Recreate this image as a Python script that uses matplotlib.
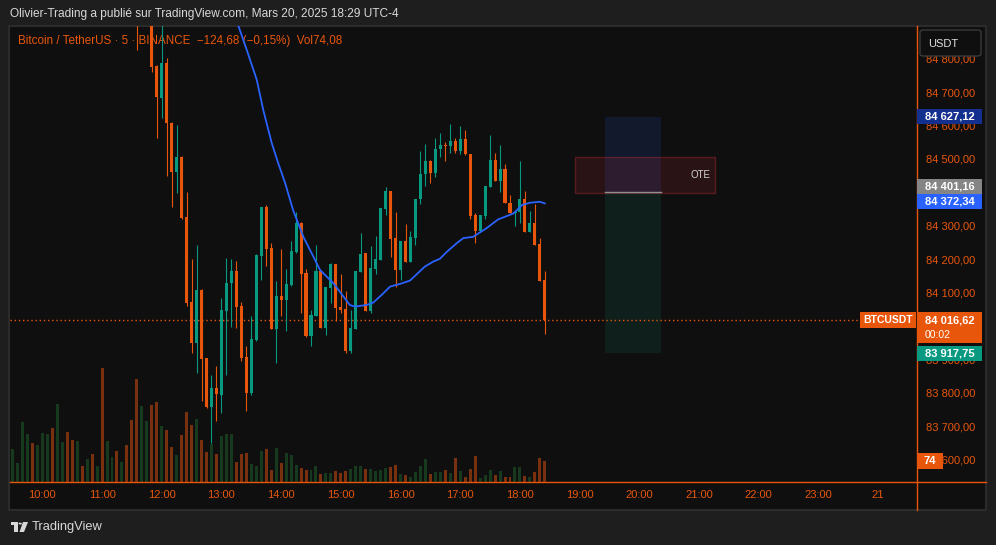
import matplotlib.pyplot as plt
from matplotlib.patches import Rectangle, FancyBboxPatch, Polygon, Circle
import numpy as np

plt.rcParams['font.family'] = ['Liberation Sans', 'DejaVu Sans']

W, H = 996, 545

# 5 minute candles, first bar at 09:30
opens = [85210, 85245, 85270, 85335, 85370, 85300, 85330, 85385, 85410, 85340,
         85425, 85450, 85390, 85350, 85375, 85355, 85370, 85330, 85345, 85180,
         85220, 85235, 85190, 85205, 85110, 85040, 84950, 84990, 85030, 84777,
         84683, 84787, 84609, 84462, 84507, 84327, 84073, 83948, 84108, 83903,
         83758, 83813, 83793, 84046, 84128, 84165, 84060, 83908, 83798, 83958,
         84210, 84357, 84233, 83991, 84090, 84078, 84123, 84222, 84309, 84158,
         83971, 84031, 84165, 83995, 84115, 84186, 84057, 84051, 83925, 83991,
         84163, 84219, 84046, 84171, 84198, 84350, 84404, 84263, 84168, 84254,
         84193, 84264, 84379, 84454, 84494, 84459, 84529, 84543, 84540, 84554,
         84525, 84560, 84515, 84332, 84285, 84329, 84417, 84497, 84435, 84469,
         84369, 84339, 84342, 84380, 84282, 84309, 84245, 84138]
highs = [85260, 85290, 85350, 85390, 85380, 85345, 85400, 85430, 85420, 85440,
         85460, 85455, 85400, 85390, 85380, 85385, 85375, 85350, 85350, 85240,
         85250, 85240, 85215, 85210, 85120, 85050, 85010, 85060, 85040, 84780,
         84910, 84801, 84612, 84602, 84510, 84402, 84201, 84243, 84110, 83905,
         83853, 83880, 84083, 84203, 84201, 84195, 84073, 83941, 84031, 84215,
         84357, 84362, 84248, 84135, 84231, 84171, 84254, 84340, 84310, 84171,
         84048, 84243, 84166, 84116, 84190, 84187, 84155, 84105, 84048, 84166,
         84278, 84220, 84240, 84269, 84353, 84415, 84405, 84340, 84254, 84305,
         84284, 84380, 84524, 84545, 84496, 84562, 84577, 84552, 84605, 84562,
         84599, 84587, 84516, 84337, 84333, 84420, 84572, 84519, 84542, 84485,
         84392, 84345, 84494, 84404, 84344, 84365, 84263, 84165]
lows = [85190, 85230, 85260, 85310, 85290, 85285, 85320, 85360, 85320, 85330,
        85400, 85370, 85330, 85330, 85340, 85345, 85320, 85320, 85150, 85160,
        85200, 85170, 85180, 85090, 85020, 84826, 84920, 84975, 84761, 84562,
        84622, 84450, 84355, 84399, 84320, 84060, 83920, 83860, 83776, 83755,
        83650, 83716, 83739, 83853, 83998, 83995, 83896, 83746, 83793, 83955,
        84138, 84180, 83991, 83890, 84030, 83986, 84120, 84220, 84038, 83966,
        83941, 84030, 83994, 83973, 84070, 84016, 84040, 83920, 83919, 83990,
        84162, 84046, 84040, 84156, 84197, 84332, 84207, 84118, 84138, 84193,
        84192, 84243, 84364, 84420, 84427, 84447, 84507, 84495, 84519, 84517,
        84515, 84513, 84320, 84248, 84280, 84320, 84416, 84434, 84402, 84368,
        84338, 84300, 84307, 84281, 84281, 84242, 84135, 83976]
closes = [85245, 85270, 85335, 85370, 85300, 85330, 85385, 85410, 85340, 85425,
          85450, 85390, 85350, 85375, 85355, 85370, 85330, 85345, 85180, 85220,
          85235, 85190, 85205, 85110, 85040, 84950, 84990, 85030, 84774, 84687,
          84787, 84607, 84462, 84507, 84324, 84068, 83948, 84108, 83901, 83758,
          83813, 83796, 84048, 84128, 84165, 84058, 83905, 83798, 83961, 84213,
          84357, 84231, 83991, 84090, 84078, 84126, 84225, 84309, 84156, 83970,
          84033, 84165, 83995, 84116, 84186, 84055, 84048, 83925, 83995, 84165,
          84217, 84046, 84175, 84201, 84353, 84404, 84260, 84168, 84254, 84193,
          84267, 84380, 84455, 84494, 84459, 84529, 84542, 84540, 84554, 84525,
          84560, 84514, 84330, 84285, 84332, 84419, 84497, 84435, 84469, 84369,
          84339, 84342, 84380, 84282, 84309, 84243, 84136, 84016.62]
volumes = [116, 67, 212, 169, 138, 131, 173, 169, 191, 275,
           141, 177, 148, 145, 56, 81, 99, 56, 402, 145,
           88, 109, 71, 131, 219, 364, 268, 215, 272, 282,
           198, 184, 124, 95, 166, 247, 201, 222, 148, 106,
           134, 99, 162, 169, 169, 71, 99, 102, 64, 56,
           109, 116, 42, 120, 67, 102, 95, 60, 49, 42,
           42, 56, 28, 32, 32, 39, 32, 39, 46, 56,
           56, 46, 46, 39, 42, 49, 53, 60, 28, 25,
           18, 35, 56, 81, 28, 35, 35, 42, 32, 85,
           39, 18, 46, 92, 14, 25, 42, 25, 39, 18,
           18, 53, 53, 21, 18, 35, 85, 74.08]

# moving average (blue line), read at bar positions
ma_idx = [44.5, 45.7, 47.1, 49.1, 50.4, 52.1, 53.4, 54.8, 56.4, 57.8, 58.5, 60.5,
          61.8, 64.5, 67.8, 68.8, 71.2, 72.5, 74.2, 75.9, 77.9, 79.9, 82.9, 84.6,
          85.9, 87.3, 89.3, 90.6, 92.6, 95.3, 97.6, 100.7, 102.4, 104.0, 106.0, 107.0]
ma_val = [84940, 84886, 84826, 84737, 84647, 84548, 84488, 84428, 84347, 84293, 84266, 84207,
          84168, 84128, 84063, 84058, 84063, 84070, 84093, 84118, 84126, 84136, 84178, 84193,
          84201, 84222, 84248, 84263, 84267, 84293, 84319, 84337, 84362, 84369, 84372, 84367]

hour_idx = [6, 18, 30, 42, 54, 66, 78, 90, 102, 114, 126, 138, 150, 162, 174]
hour_labels = ['10:00', '11:00', '12:00', '13:00', '14:00', '15:00', '16:00', '17:00',
               '18:00', '19:00', '20:00', '21:00', '22:00', '23:00', '21']
price_ticks = [83600, 83700, 83800, 83900, 84000, 84100, 84200,
               84300, 84400, 84500, 84600, 84700, 84800]
hidden_ticks = [84000, 84400]  # fully covered by price tags

last_price = 84016.62
ma_last = 84372.34
entry_price = 84401.16
target_price = 84627.12
stop_price = 83917.75
pos_start, pos_end = 119.1, 130.4
ote_low, ote_high = 84399, 84505
ote_start, ote_end = 113.1, 141.2
last_vol = 74.08

ORANGE = '#E8560C'
TEAL = '#089981'
VOL_UP = '#173a1f'
VOL_DN = '#78300e'
BG = '#0f0f0f'
OUTER = '#1e1e1e'


def fx(x):
    return x / W


def fy(y):
    return 1 - y / H


def fmt(p):
    return format(p, ',.2f').replace(',', ' ').replace('.', ',')


fig = plt.figure(figsize=(W / 100, H / 100), dpi=100, facecolor=OUTER)

# chart panel
fig.patches.append(Rectangle((fx(9), fy(510)), fx(986) - fx(9), fy(26) - fy(510),
                             transform=fig.transFigure, facecolor=BG,
                             edgecolor='#2b2b2b', lw=1.5, zorder=-5))

L, R, T, B = 10, 917, 26, 482
rect = [fx(L), fy(B), fx(R) - fx(L), fy(T) - fy(B)]
vax = fig.add_axes(rect)
ax = fig.add_axes(rect, sharex=vax)
vax.set_zorder(1)
ax.set_zorder(2)
ax.patch.set_visible(False)
vax.patch.set_visible(False)

n = len(closes)
idx = np.arange(n)
o = np.array(opens, dtype=float)
c = np.array(closes, dtype=float)
up = c >= o
cols = [TEAL if u else ORANGE for u in up]
vcols = [VOL_UP if u else VOL_DN for u in up]

vax.bar(idx, volumes, width=0.6, color=vcols, lw=0, antialiased=False, zorder=1)
vax.set_ylim(0, 1609)
vax.axis('off')

ax.vlines(idx, lows, highs, colors=cols, lw=0.8, zorder=3)
body_lo = np.minimum(o, c)
body_h = np.maximum(np.abs(c - o), 3)
ax.bar(idx, body_h, bottom=body_lo, width=0.62, color=cols, lw=0, zorder=3)
ax.plot(ma_idx, ma_val, color='#2962FF', lw=1.3, zorder=4)

# close price line
ax.axhline(last_price, color=ORANGE, lw=1, ls=(0, (1, 2)), zorder=2)

# OTE zone and position tool
ax.add_patch(Rectangle((pos_start, entry_price), pos_end - pos_start, target_price - entry_price,
                       facecolor='#2962FF', alpha=0.12, lw=0, zorder=1))
ax.add_patch(Rectangle((pos_start, stop_price), pos_end - pos_start, entry_price - stop_price,
                       facecolor=TEAL, alpha=0.12, lw=0, zorder=1))
ax.plot([pos_start, pos_end], [entry_price, entry_price], color='#8f8f8f', lw=1, zorder=2)
ax.add_patch(Rectangle((ote_start, ote_low), ote_end - ote_start, ote_high - ote_low,
                       facecolor=(0.95, 0.21, 0.27, 0.12), edgecolor=(0.95, 0.21, 0.27, 0.28),
                       lw=1, zorder=1))
ax.text(ote_end - 0.8, (ote_low + ote_high) / 2, 'OTE', color='#d4d4d4', fontsize=7,
        ha='right', va='center', zorder=2)

ax.set_xlim(-0.5025, 181.81)
ax.set_ylim(83532.9, 84898.2)
for s in ax.spines.values():
    s.set_visible(False)

ax.yaxis.tick_right()
ax.set_yticks(price_ticks)
ax.set_yticklabels(['' if p in hidden_ticks else fmt(p) for p in price_ticks])
ax.tick_params(axis='y', length=0, pad=6.5, labelcolor=ORANGE, labelsize=8)
ax.set_xticks(hour_idx)
ax.set_xticklabels(hour_labels)
ax.tick_params(axis='x', length=0, pad=6, labelcolor=ORANGE, labelsize=8)

# legend line
ax.text((18 - L) / (R - L), 1 - (41 - T) / (B - T),
        'Bitcoin / TetherUS \u00b7 5 \u00b7 BINANCE  \u2212124,68 (\u22120,15%)  Vol74,08',
        transform=ax.transAxes, color=ORANGE, fontsize=8.4, va='center', ha='left', zorder=1)

# separators
fig.lines.append(plt.Line2D([fx(R), fx(R)], [fy(26), fy(510)], color=ORANGE, lw=1,
                            transform=fig.transFigure, zorder=5))
fig.lines.append(plt.Line2D([fx(10), fx(986)], [fy(482), fy(482)], color=ORANGE, lw=1,
                            transform=fig.transFigure, zorder=5))

fig.canvas.draw()


def ypix(p):
    return H - ax.transData.transform((0, p))[1]


def tag(price, text, color, x0=917, x1=982, dy=0, h=15):
    yc = ypix(price) + dy
    fig.patches.append(Rectangle((fx(x0), fy(yc + h / 2)), fx(x1) - fx(x0), h / H,
                                 transform=fig.transFigure, facecolor=color, lw=0, zorder=10))
    fig.text(fx(x0 + 8), fy(yc), text, color='white', fontsize=8, fontweight='bold',
             va='center', ha='left', zorder=11)


tag(target_price, fmt(target_price), '#14308f')
tag(entry_price, fmt(entry_price), '#858585', dy=-6)
tag(ma_last, fmt(ma_last), '#2962FF')
tag(stop_price, fmt(stop_price), TEAL)

# last price tag with countdown
yc = ypix(last_price)
fig.patches.append(Rectangle((fx(917), fy(yc + 23)), fx(982) - fx(917), 31 / H,
                             transform=fig.transFigure, facecolor=ORANGE, lw=0, zorder=10))
fig.text(fx(925), fy(yc), fmt(last_price), color='white', fontsize=8, fontweight='bold',
         va='center', ha='left', zorder=11)
fig.text(fx(925), fy(yc + 15), '00:02', color='white', fontsize=7.5,
         va='center', ha='left', zorder=11)
fig.patches.append(Rectangle((fx(860), fy(yc + 8)), fx(916) - fx(860), 16 / H,
                             transform=fig.transFigure, facecolor=ORANGE, lw=0, zorder=10))
fig.text(fx(888), fy(yc), 'BTCUSDT', color='white', fontsize=7.5, fontweight='bold',
         va='center', ha='center', zorder=11)

# volume tag
yv = H - vax.transData.transform((0, last_vol))[1]
fig.patches.append(Rectangle((fx(917), fy(yv + 8)), fx(943) - fx(917), 16 / H,
                             transform=fig.transFigure, facecolor=ORANGE, lw=0, zorder=10))
fig.text(fx(930), fy(yv), '74', color='white', fontsize=8, fontweight='bold',
         va='center', ha='center', zorder=11)

# currency box
fig.patches.append(FancyBboxPatch((fx(920), fy(56)), fx(981) - fx(920), 26 / H,
                                  boxstyle='round,pad=0,rounding_size=0.004',
                                  transform=fig.transFigure, facecolor=BG,
                                  edgecolor='#3a3a3a', lw=1, zorder=10))
fig.text(fx(943), fy(44), 'USDT', color='#e0e0e0', fontsize=8, va='center',
         ha='center', zorder=11)

# header
fig.text(fx(10), fy(14), 'Olivier-Trading a publi\u00e9 sur TradingView.com, Mars 20, 2025 18:29 UTC-4',
         color='#d8d8d8', fontsize=8.6, va='center', ha='left')

# TradingView watermark
logo = '#d8d8d8'
fig.patches.append(Rectangle((fx(11), fy(525)), fx(18) - fx(11), 3 / H,
                             transform=fig.transFigure, facecolor=logo, lw=0))
fig.patches.append(Rectangle((fx(14), fy(532)), fx(18) - fx(14), 10 / H,
                             transform=fig.transFigure, facecolor=logo, lw=0))
fig.patches.append(Circle((fx(20.2), fy(523.6)), 1.7 / W, transform=fig.transFigure,
                          facecolor=logo, lw=0))
fig.patches.append(Polygon([(fx(23), fy(522)), (fx(28), fy(522)), (fx(24), fy(532)),
                            (fx(19.5), fy(532))], closed=True, transform=fig.transFigure,
                           facecolor=logo, lw=0))
fig.text(fx(32), fy(527), 'TradingView', color=logo, fontsize=9.3, va='center', ha='left')

fig.savefig('out.png', dpi=100, facecolor=OUTER)
